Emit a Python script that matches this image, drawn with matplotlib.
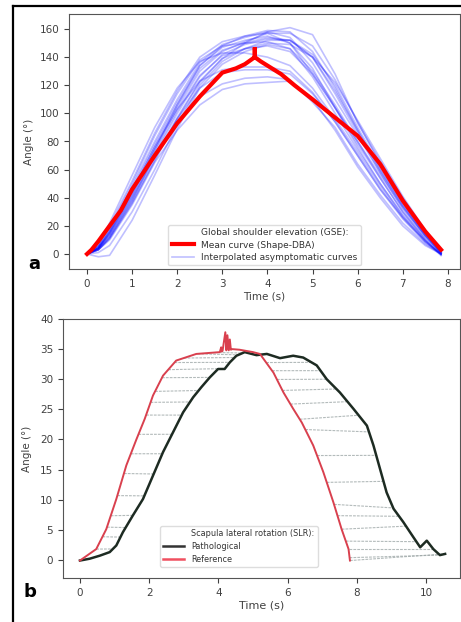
import numpy as np
import matplotlib
matplotlib.use("Agg")
import matplotlib.pyplot as plt
from matplotlib.lines import Line2D

# ---------------- Panel a data ----------------
t_a = [0, 0.25, 0.5, 1, 1.5, 2, 2.5, 3, 3.5, 4, 4.5, 5, 5.5, 6, 6.5, 7, 7.5, 7.85]
c01 = [0, 6, 20, 52, 86, 116, 140, 151, 155, 157, 150, 128, 104, 80, 56, 33, 13, 1]
c02 = [0, 5, 17, 48, 80, 110, 136, 149, 154, 158, 154, 136, 110, 84, 58, 34, 13, 1]
c03 = [0, 4, 14, 42, 74, 106, 134, 148, 155, 159, 158, 144, 118, 88, 60, 35, 14, 2]
c04 = [0, 3, 11, 36, 66, 96, 122, 139, 150, 158, 161, 156, 128, 93, 66, 40, 16, 2]
c05 = [0, 3, 10, 35, 65, 88, 106, 117, 121, 122, 123, 110, 88, 62, 40, 20, 6, 0]
c06 = [0, 4, 13, 40, 70, 94, 112, 121, 125, 126, 124, 108, 90, 64, 42, 22, 7, 0]
c07 = [0, 4, 15, 44, 76, 103, 123, 131, 133, 133, 130, 115, 94, 70, 46, 26, 9, 0]
c08 = [0, 5, 18, 50, 84, 114, 138, 148, 150, 151, 146, 126, 100, 74, 50, 28, 10, 0]
c09 = [0, 1, 6, 30, 60, 92, 120, 137, 146, 152, 152, 140, 116, 88, 60, 34, 13, 1]
c10 = [0, -2, -1, 24, 56, 89, 118, 135, 144, 149, 146, 130, 106, 80, 54, 30, 10, -1]
c11 = [0, 5, 16, 46, 78, 108, 134, 147, 152, 155, 150, 132, 104, 76, 50, 27, 9, -1]
c12 = [0, 4, 16, 45, 76, 106, 132, 145, 150, 154, 152, 140, 114, 86, 58, 32, 12, 1]
c13 = [0, 6, 22, 56, 90, 118, 137, 143, 143, 140, 134, 118, 96, 72, 48, 26, 9, 0]
c14 = [0, 3, 12, 38, 70, 100, 126, 142, 149, 153, 152, 142, 120, 90, 62, 36, 14, 1]
c15 = [0, 3, 12, 39, 69, 96, 118, 129, 131, 131, 128, 114, 94, 70, 46, 25, 8, 0]
c16 = [0, 4, 15, 43, 74, 104, 130, 144, 151, 157, 157, 148, 124, 94, 64, 38, 15, 2]
c17 = [0, 4, 14, 41, 72, 102, 127, 141, 146, 148, 144, 128, 104, 78, 54, 30, 11, 0]
c18 = [0, 3, 11, 37, 67, 97, 123, 139, 146, 150, 149, 140, 122, 95, 68, 41, 17, 2]
blue_curves = [c01, c02, c03, c04, c05, c06, c07, c08, c09, c10,
               c11, c12, c13, c14, c15, c16, c17, c18]

t_mean = [0, 0.1, 0.25, 0.5, 0.75, 1, 1.5, 2, 2.5, 3, 3.3, 3.5, 3.72, 3.72, 3.72,
          3.85, 4.3, 4.6, 5, 5.5, 6, 6.5, 7, 7.5, 7.85]
mean_curve = [0, 3, 9, 20, 31, 46, 70, 93, 112, 129, 132, 135, 140, 147, 140,
              137, 128, 120, 110, 97, 84, 64, 38, 16, 3]

# ---------------- Panel b data ----------------
t_ref = [0, 0.47, 0.76, 1.05, 1.34, 1.63, 1.87, 2.11, 2.4, 2.78, 3.36, 4.04, 4.08,
         4.1, 4.12, 4.2, 4.23, 4.26, 4.3, 4.33, 4.36, 4.4, 4.61, 5.0, 5.2, 5.59, 5.88,
         6.16, 6.41, 6.74, 7.03, 7.32, 7.56, 7.76, 7.8]
a_ref = [-0.1, 1.8, 5.1, 10.1, 15.7, 20.0, 23.4, 27.3, 30.6, 33.1, 34.2, 34.5, 35.3,
         34.6, 34.7, 37.8, 34.8, 37.3, 34.8, 36.6, 34.9, 35.0, 34.9, 34.5, 34.2, 31.1, 27.8,
         25.1, 22.8, 19.0, 14.6, 9.6, 5.1, 1.8, -0.1]

t_path = [0, 0.28, 0.57, 0.86, 1.05, 1.24, 1.53, 1.82, 2.11, 2.4, 2.69, 2.98, 3.27,
          3.51, 3.75, 3.99, 4.18, 4.33, 4.52, 4.76, 5.1, 5.4, 5.78, 6.16, 6.45, 6.84,
          7.13, 7.51, 7.9, 8.29, 8.48, 8.67, 8.86, 9.06, 9.34, 9.63, 9.83, 10.02,
          10.21, 10.4, 10.55]
a_path = [-0.1, 0.2, 0.7, 1.3, 2.4, 4.6, 7.4, 10.1, 14.0, 17.9, 21.2, 24.5, 27.0,
          28.7, 30.3, 31.7, 31.7, 32.8, 33.9, 34.5, 34.0, 34.2, 33.5, 33.9, 33.6, 32.3,
          30.0, 27.8, 25.1, 22.3, 19.0, 15.1, 11.2, 8.5, 6.3, 3.8, 2.1, 3.2,
          1.8, 0.8, 1.0]

# DTW alignment pairs (time on reference, time on pathological)
align_ref = [0.47, 0.65, 0.78, 0.89, 1.08, 1.27, 1.47, 1.69, 1.91, 2.04, 2.17, 2.37,
             2.55, 2.73, 3.0, 3.4, 3.9,
             5.38, 5.55, 5.69, 5.85, 6.08, 6.35, 6.51, 6.85, 7.13, 7.34, 7.44, 7.56,
             7.68, 7.76, 7.79, 7.8]
align_path = [0.95, 1.17, 1.32, 1.53, 1.86, 2.13, 2.38, 2.66, 2.94, 3.18, 3.43, 3.75,
              4.19, 4.33, 4.47, 4.58, 4.7,
              6.69, 6.95, 7.13, 7.41, 7.73, 8.05, 8.35, 8.56, 8.77, 9.05, 9.22, 9.42,
              9.72, 10.21, 10.4, 10.55]

W, H = 461, 622
fig = plt.figure(figsize=(W / 100, H / 100), dpi=100)
fig.patch.set_facecolor("white")

tick_col = "#404040"
spine_col = "#555555"

def style(ax):
    for s in ax.spines.values():
        s.set_color(spine_col)
        s.set_linewidth(0.8)
    ax.tick_params(labelsize=7.5, colors=tick_col, length=3.5, width=0.8)

# ---------- Panel a ----------
axa = fig.add_axes([69 / W, 1 - 269 / H, (460 - 69) / W, (269 - 14) / H])
for c in blue_curves:
    axa.plot(t_a, c, color="#0000ff", alpha=0.25, lw=1.2)
axa.plot(t_mean, mean_curve, color="#ff0000", lw=3, solid_joinstyle="miter")
axa.set_xlim(-0.4, 8.27)
axa.set_ylim(-10.7, 170.7)
axa.set_xticks(range(0, 9))
axa.set_yticks(range(0, 161, 20))
axa.set_xlabel("Time (s)", fontsize=7.5, color=tick_col, labelpad=2)
axa.set_ylabel("Angle (°)", fontsize=7.5, color=tick_col, labelpad=4)
style(axa)
h_title = Line2D([], [], color="none")
h_mean = Line2D([], [], color="#ff0000", lw=3)
h_blue = Line2D([], [], color="#0000ff", alpha=0.25, lw=1.2)
la = axa.legend([h_title, h_mean, h_blue],
                ["Global shoulder elevation (GSE):", "Mean curve (Shape-DBA)",
                 "Interpolated asymptomatic curves"],
                loc="lower center", fontsize=6.5, handlelength=2.4,
                labelspacing=0.35, borderaxespad=0.4, framealpha=1,
                edgecolor="#dddddd", fancybox=True)
for txt in la.get_texts():
    txt.set_color("#333333")

# ---------- Panel b ----------
axb = fig.add_axes([63 / W, 1 - 578 / H, (460 - 63) / W, (578 - 319) / H])
for tr, tp in zip(align_ref, align_path):
    yr = np.interp(tr, t_ref, a_ref)
    yp = np.interp(tp, t_path, a_path)
    axb.plot([tr, tp], [yr, yp], color="#9aa4a4", lw=0.8,
             linestyle=(0, (2.5, 1)), alpha=0.75)
axb.plot(t_path, a_path, color="#1d2b22", lw=1.8)
axb.plot(t_ref, a_ref, color="#d9404e", lw=1.4)
axb.set_xlim(-0.49, 10.98)
axb.set_ylim(-3, 40)
axb.set_xticks(range(0, 11, 2))
axb.set_yticks(range(0, 41, 5))
axb.set_xlabel("Time (s)", fontsize=8, color=tick_col, labelpad=2)
axb.set_ylabel("Angle (°)", fontsize=7.5, color=tick_col, labelpad=6)
style(axb)
hb_title = Line2D([], [], color="none")
hb_path = Line2D([], [], color="#333333", lw=1.8)
hb_ref = Line2D([], [], color="#f05060", lw=1.8)
lb = axb.legend([hb_title, hb_path, hb_ref],
                ["Scapula lateral rotation (SLR):", "Pathological", "Reference"],
                loc="lower left", bbox_to_anchor=(0.244, 0.042),
                borderaxespad=0, fontsize=5.9, handlelength=2.6,
                labelspacing=0.45, framealpha=1, edgecolor="#dddddd")
for txt in lb.get_texts():
    txt.set_color("#333333")

# ---------- panel letters and frame ----------
fig.text(34 / W, 1 - 264 / H, "a", fontsize=13, fontweight="bold",
         ha="center", va="center", color="black")
fig.text(30 / W, 1 - 592 / H, "b", fontsize=13, fontweight="bold",
         ha="center", va="center", color="black")
fig.add_artist(Line2D([13 / W, 1.0], [1 - 6 / H, 1 - 6 / H], color="black",
                      lw=1.6, transform=fig.transFigure))
fig.add_artist(Line2D([13 / W, 13 / W], [0, 1 - 6 / H], color="black",
                      lw=1.6, transform=fig.transFigure))

fig.savefig("out.png", dpi=100, facecolor="white")
